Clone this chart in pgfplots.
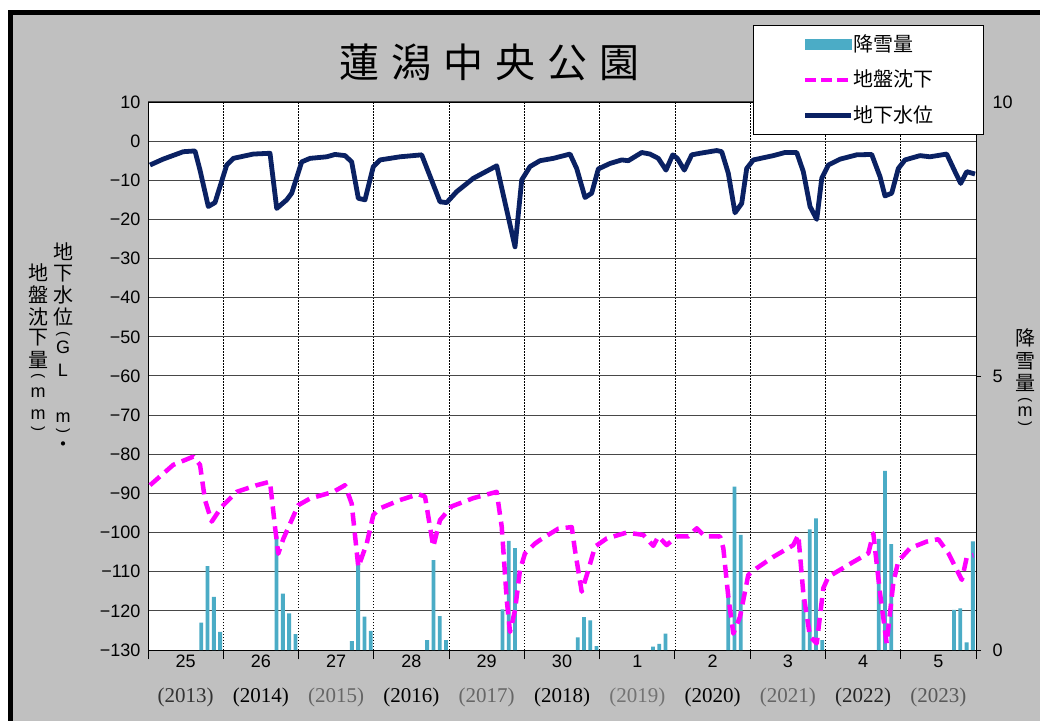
\documentclass[border=0pt]{standalone}
\usepackage{fontspec}
\usepackage{pgfplots}
\pgfplotsset{compat=1.18}
\setmainfont{Liberation Sans}
\newfontfamily\cjk{Noto Sans CJK JP}
\newfontfamily\yfont{Liberation Serif}
\definecolor{bggray}{HTML}{C0C0C0}
\definecolor{navy}{HTML}{0A2163}
\definecolor{snow}{HTML}{4BACC6}
\definecolor{subs}{HTML}{FF00FF}
\newcommand{\vc}[3]{\node[inner sep=0pt] at (#1pt,720pt-#2pt) {#3};}
\begin{document}
\begin{tikzpicture}
\useasboundingbox (0pt,0pt) rectangle (1040pt,720pt);
\begin{scope}
\clip (0pt,0pt) rectangle (1040pt,720pt);
\fill[white] (0pt,0pt) rectangle (1040pt,720pt);
\fill[bggray] (10.8pt,-20pt) rectangle (1060pt,707pt);
\draw[line width=5pt] (10.8pt,-20pt) -- (10.8pt,707pt) -- (1060pt,707pt);
\end{scope}

% Axis A: background, grid, left axis, fiscal-year numbers
\begin{axis}[
  at={(148pt,70pt)}, anchor=south west, scale only axis, width=828pt, height=548pt,
  xmin=0, xmax=132, ymin=-130, ymax=10,
  axis background/.style={fill=white},
  axis line style={black, line width=0.8pt},
  ytick={-130,-120,...,10},
  yticklabels={−130,−120,−110,−100,−90,−80,−70,−60,−50,−40,−30,−20,−10,0,10},
  ymajorgrids, y grid style={black!72, line width=1pt},
  ytick pos=left, ytick style={draw=none},
  yticklabel style={font=\fontsize{18}{18}\selectfont, xshift=-4pt},
  xtick={0,12,...,132}, xticklabels={},
  xtick pos=bottom, xtick align=outside, major tick length=9pt,
  xtick style={draw=black, line width=1pt},
  xmajorgrids, x grid style={black, line width=0.8pt, dash pattern=on 1.5pt off 1.5pt},
  extra x ticks={6,18,...,126},
  extra x tick labels={25,26,27,28,29,30,1,2,3,4,5},
  extra x tick style={grid=none, xtick style={draw=none},
     xticklabel style={font=\fontsize{18}{18}\selectfont, anchor=base, yshift=-8.5pt}},
]
\addplot[draw=none] coordinates {(0,-130)};
\end{axis}

% Axis B: snowfall bars, right axis
\begin{axis}[
  at={(148pt,70pt)}, anchor=south west, scale only axis, width=828pt, height=548pt,
  xmin=0, xmax=132, ymin=0, ymax=10,
  axis y line*=right, axis x line*=bottom,
  x axis line style={draw=none}, y axis line style={black, line width=0.8pt},
  ytick={0,5,10}, yticklabels={0,5,10},
  yticklabel style={font=\fontsize{18}{18}\selectfont, anchor=west, xshift=8pt},
  tick align=outside, major tick length=5pt, ytick style={black, line width=0.8pt},
  xtick={6,18,...,126},
  xticklabels={{\color{black!80}(2013)},{(2014)},{\color{black!60}(2015)},{(2016)},{\color{black!60}(2017)},{(2018)},{\color{black!55}(2019)},{(2020)},{\color{black!60}(2021)},{\color{black!85}(2022)},{\color{black!65}(2023)}},
  xtick style={draw=none},
  xticklabel style={font=\yfont\fontsize{21}{21}\selectfont, anchor=base, yshift=-47pt},
  ybar, bar width=3.8pt,
]
\addplot[fill=snow, draw=none] coordinates {
(8.5,0.50) (9.5,1.53) (10.5,0.97) (11.5,0.33)
(20.5,2.08) (21.5,1.03) (22.5,0.67) (23.5,0.29)
(32.5,0.16) (33.5,1.73) (34.5,0.61) (35.5,0.35)
(44.5,0.18) (45.5,1.64) (46.5,0.62) (47.5,0.18)
(56.5,0.74) (57.5,1.99) (58.5,1.86)
(68.5,0.23) (69.5,0.60) (70.5,0.54) (71.5,0.07)
(80.5,0.06) (81.5,0.11) (82.5,0.30)
(92.5,0.99) (93.5,2.98) (94.5,2.10)
(104.5,0.91) (105.5,2.20) (106.5,2.40) (107.5,0.18)
(116.5,2.03) (117.5,3.27) (118.5,1.93)
(128.5,0.73) (129.5,0.76) (130.5,0.14) (131.5,1.98)
};
\end{axis}

% Axis C: lines and legend
\begin{axis}[
  at={(148pt,70pt)}, anchor=south west, scale only axis, width=828pt, height=548pt,
  xmin=0, xmax=132, ymin=-130, ymax=10,
  hide axis, clip=false,
  legend cell align=left,
  legend style={at={(1.0097,1.1405)}, anchor=north east, draw=black, line width=0.6pt,
    fill=white, font=\cjk\fontsize{20}{20}\selectfont,
    inner xsep=50pt, inner ysep=10pt, row sep=17.5pt,
    nodes={inner sep=0pt, text height=16pt, text depth=2pt},
    /tikz/every even column/.append style={column sep=6pt}},
]
\addlegendimage{legend image code/.code={\fill[snow] (0pt,-5pt) rectangle (46pt,5pt);}}
\addlegendentry{降雪量}
\addplot[subs, line width=4.5pt, dash pattern=on 13pt off 7pt, line join=round,
  legend image code/.code={\draw[subs, line width=4.5pt, dash pattern=on 11pt off 5pt] (0pt,0pt) -- (46pt,0pt);}]
coordinates {
(0.32,-87.9) (4.03,-82.7) (7.22,-80.6) (8.29,-82.7) (9.09,-91.7) (10.16,-97.2) (11.21,-94.7)
(12.0,-93.0) (14.14,-89.6) (17.33,-87.9) (19.45,-87.0) (20.25,-98.6) (20.77,-105.4) (21.57,-101.6)
(23.96,-93.0) (25.83,-91.3) (29.54,-89.6) (31.41,-87.9) (32.47,-92.6) (33.53,-108.8) (34.87,-102.8)
(35.92,-95.5) (36.99,-93.8) (40.17,-91.7) (43.09,-90.2) (44.16,-90.8) (45.48,-103.6) (46.55,-96.8)
(48.42,-93.3) (51.86,-91.2) (55.59,-89.6) (56.39,-98.5) (57.19,-117.2) (57.71,-125.4) (58.51,-119.8)
(59.3,-109.6) (60.1,-105.3) (61.7,-102.8) (62.49,-101.9) (65.41,-99.0) (67.55,-98.6) (68.07,-104.5)
(69.14,-115.1) (70.19,-109.6) (71.26,-103.6) (73.13,-101.5) (76.31,-100.0) (78.96,-100.6)
(80.55,-103.4) (81.35,-101.0) (82.69,-103.2) (84.29,-101.0) (86.14,-101.0) (87.47,-98.9)
(88.8,-101.0) (91.19,-101.0) (91.72,-104.0) (92.51,-116.4) (93.31,-125.8) (94.38,-121.5)
(95.7,-110.8) (97.04,-109.1) (99.69,-106.2) (102.87,-103.2) (103.67,-100.6) (104.47,-115.5)
(105.54,-126.6) (106.61,-128.3) (107.66,-114.2) (108.46,-111.3) (112.44,-107.5) (114.83,-105.3)
(115.63,-100.2) (116.7,-115.5) (117.76,-128.3) (118.82,-112.8) (119.61,-107.3) (121.48,-104.0)
(124.14,-102.3) (125.99,-101.7) (127.61,-105.3) (129.74,-112.1) (130.54,-106.2) (131.59,-105.8)
};
\addlegendentry{地盤沈下}
\addplot[navy, line width=4.8pt, line join=round,
  legend image code/.code={\draw[navy, line width=4.5pt] (0pt,0pt) -- (46pt,0pt);}]
coordinates {
(0.32,-6.1) (2.4,-4.6) (5.63,-2.7) (7.49,-2.5) (8.29,-7.4) (9.61,-16.7) (10.68,-15.7)
(12.55,-6.1) (13.6,-4.4) (16.79,-3.3) (19.45,-3.1) (20.52,-17.2) (22.11,-15.0) (22.91,-13.3)
(24.5,-5.3) (25.83,-4.4) (28.49,-4.0) (29.81,-3.4) (31.41,-3.7) (32.47,-5.3) (33.53,-14.6)
(34.59,-15.0) (35.92,-6.5) (36.99,-4.8) (40.17,-4.0) (43.63,-3.5) (46.55,-15.5) (47.62,-15.7)
(49.21,-12.9) (51.86,-9.5) (55.59,-6.3) (58.51,-27.0) (59.58,-9.9) (60.9,-6.5) (62.49,-5.0)
(64.61,-4.4) (67.28,-3.3) (68.34,-7.0) (69.67,-14.4) (70.73,-13.3) (71.79,-7.1) (73.65,-5.7)
(75.52,-4.8) (76.57,-5.0) (78.71,-2.9) (80.03,-3.3) (81.35,-4.4) (82.58,-7.4) (83.65,-3.5)
(84.38,-4.4) (85.5,-7.4) (86.68,-3.5) (88.0,-3.1) (90.66,-2.4) (91.46,-2.7) (92.51,-8.2)
(93.58,-18.3) (94.65,-15.9) (95.44,-7.0) (96.5,-4.8) (99.69,-3.7) (101.55,-2.9) (103.42,-2.9)
(104.47,-7.8) (105.54,-16.7) (106.61,-20.0) (107.41,-9.5) (108.46,-6.1) (110.33,-4.6)
(112.98,-3.5) (115.37,-3.4) (116.7,-9.1) (117.49,-14.0) (118.56,-13.3) (119.61,-7.0)
(120.68,-4.8) (123.07,-3.7) (124.67,-4.0) (127.33,-3.3) (128.65,-7.8) (129.56,-10.8)
(130.52,-7.8) (131.84,-8.4)
};
\addlegendentry{地下水位}
\end{axis}

% title
\node at (489pt,657.5pt) {\cjk\fontsize{40}{40}\selectfont 蓮\hspace{12pt}潟\hspace{12pt}中\hspace{12pt}央\hspace{12pt}公\hspace{12pt}園};

% axis titles (vertical)
\begin{scope}[font=\cjk\fontsize{20}{20}\selectfont]
\vc{63}{252}{地}\vc{63}{274}{下}\vc{63}{295}{水}\vc{63}{317}{位}
\vc{38}{273}{地}\vc{38}{295}{盤}\vc{38}{317}{沈}\vc{38}{338}{下}\vc{38}{360}{量}
\vc{1025}{338}{降}\vc{1025}{361}{雪}\vc{1025}{383}{量}
\vc{63}{447}{・}
\end{scope}
\begin{scope}[font=\fontsize{18}{18}\selectfont]
\vc{63}{347}{G}\vc{63}{370}{L}\vc{63}{418}{m}
\vc{38}{393}{m}\vc{38}{415}{m}
\vc{1025}{412}{m}
\end{scope}
\begin{scope}[font=\fontsize{15}{15}\selectfont]
\node[rotate=-90,inner sep=0pt] at (63pt,720pt-334pt) {(};
\node[rotate=-90,inner sep=0pt] at (63pt,720pt-431pt) {)};
\node[rotate=-90,inner sep=0pt] at (38pt,720pt-376pt) {(};
\node[rotate=-90,inner sep=0pt] at (38pt,720pt-429pt) {)};
\node[rotate=-90,inner sep=0pt] at (1025pt,720pt-400pt) {(};
\node[rotate=-90,inner sep=0pt] at (1025pt,720pt-424pt) {)};
\end{scope}
\end{tikzpicture}
\end{document}
